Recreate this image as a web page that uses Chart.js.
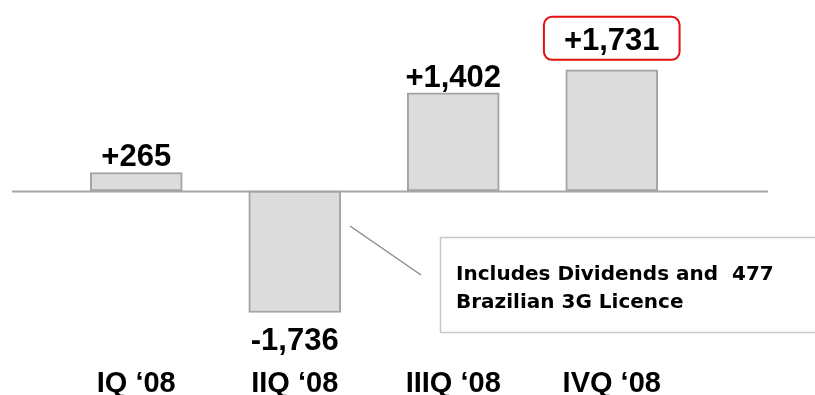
<!DOCTYPE html>
<html>
<head>
<meta charset="utf-8">
<script src="https://cdn.jsdelivr.net/npm/chart.js@4.4.0/dist/chart.umd.min.js"></script>
<style>
  html, body { margin: 0; padding: 0; background: #ffffff; }
  canvas { display: block; }
</style>
</head>
<body>
<canvas id="chart" width="815" height="395"></canvas>
<script>
// Quarterly change, 2008
const quarters = ['IQ \u201808', 'IIQ \u201808', 'IIIQ \u201808', 'IVQ \u201808'];
const changes = [265, -1736, 1402, 1731];
const highlightedQuarter = 'IVQ \u201808';
const noteLines = ['Includes Dividends and  477', 'Brazilian 3G Licence'];

const VALUE_FONT = 'bold 31px "Liberation Sans", Arial, sans-serif';
const NOTE_FONT = 'bold 20px "DejaVu Sans", sans-serif';

function signed(v) {
  const s = Math.abs(v).toLocaleString('en-US');
  return (v >= 0 ? '+' : '-') + s;
}

// Zero line spanning the whole width
const zeroLine = {
  id: 'zeroLine',
  beforeDatasetsDraw(chart) {
    const y = Math.round(chart.scales.y.getPixelForValue(0)) + 0.5;
    const ctx = chart.ctx;
    ctx.save();
    ctx.strokeStyle = '#a6a6a6';
    ctx.lineWidth = 2;
    ctx.beginPath();
    ctx.moveTo(12, y);
    ctx.lineTo(768, y);
    ctx.stroke();
    ctx.restore();
  }
};

// Signed value above / below each bar; highlighted one gets a red rounded frame
const valueLabels = {
  id: 'valueLabels',
  afterDatasetsDraw(chart) {
    const ctx = chart.ctx;
    const meta = chart.getDatasetMeta(0);
    ctx.save();
    ctx.font = VALUE_FONT;
    ctx.fillStyle = '#000000';
    ctx.textAlign = 'center';
    ctx.textBaseline = 'alphabetic';
    meta.data.forEach((bar, i) => {
      const v = changes[i];
      const text = signed(v);
      const highlighted = quarters[i] === highlightedQuarter;
      let baseY;
      if (v >= 0) {
        baseY = bar.y - (highlighted ? 20 : 6);
      } else {
        baseY = bar.y + 37;
      }
      if (highlighted) {
        const w = ctx.measureText(text).width;
        const bx = bar.x - w / 2 - 20;
        const bw = w + 40;
        const by = baseY - 33;
        const bh = 43;
        ctx.save();
        ctx.strokeStyle = '#e3100f';
        ctx.lineWidth = 2;
        ctx.beginPath();
        ctx.roundRect(bx, by, bw, bh, 8);
        ctx.stroke();
        ctx.restore();
      }
      ctx.fillText(text, bar.x, baseY);
    });
    ctx.restore();
  }
};

// Callout note for the second quarter
const callout = {
  id: 'callout',
  afterDraw(chart) {
    const ctx = chart.ctx;
    const bar = chart.getDatasetMeta(0).data[1];
    ctx.save();
    ctx.strokeStyle = '#8c8c8c';
    ctx.lineWidth = 1.5;
    ctx.beginPath();
    ctx.moveTo(350, 226);
    ctx.lineTo(421, 275);
    ctx.stroke();

    ctx.strokeStyle = '#c8c8c8';
    ctx.lineWidth = 1.5;
    ctx.strokeRect(440.5, 237.5, 400, 95);

    ctx.font = NOTE_FONT;
    ctx.fillStyle = '#000000';
    ctx.textAlign = 'left';
    ctx.textBaseline = 'alphabetic';
    ctx.fillText(noteLines[0], 456, 280);
    ctx.fillText(noteLines[1], 456, 308);
    ctx.restore();
  }
};

new Chart(document.getElementById('chart'), {
  type: 'bar',
  data: {
    labels: quarters,
    datasets: [{
      data: changes,
      backgroundColor: '#dcdcdc',
      borderColor: '#a3a3a3',
      borderWidth: 2,
      borderSkipped: false,
      barThickness: 92
    }]
  },
  options: {
    responsive: false,
    devicePixelRatio: 1,
    animation: false,
    layout: { padding: { top: 10, left: 57, right: 124, bottom: 0 } },
    plugins: {
      legend: { display: false },
      tooltip: { enabled: false },
      title: { display: false }
    },
    scales: {
      x: {
        grid: { display: false, drawTicks: false },
        border: { display: false },
        ticks: {
          color: '#000000',
          font: { family: '"Liberation Sans", Arial, sans-serif', size: 29, weight: 'bold' },
          padding: 32,
          maxRotation: 0,
          autoSkip: false
        },
        afterFit(scale) { scale.height = 60; }
      },
      y: {
        display: false,
        min: -2057,
        max: 2586
      }
    }
  },
  plugins: [zeroLine, valueLabels, callout]
});
</script>
</body>
</html>
